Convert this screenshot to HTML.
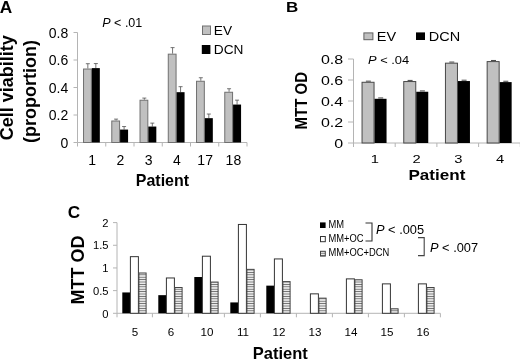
<!DOCTYPE html><html><head><meta charset="utf-8"><title>Figure</title><style>html,body{margin:0;padding:0;background:#fff}svg{display:block;will-change:transform}text{font-family:"Liberation Sans",Arial,sans-serif;fill:#000}</style></head><body>
<svg width="520" height="360" viewBox="0 0 520 360">
<defs><pattern id="h" width="2.4" height="2.4" patternUnits="userSpaceOnUse"><rect width="2.4" height="2.4" fill="#fff"/><rect y="0.7" width="2.4" height="1.0" fill="#666"/></pattern></defs>
<rect width="520" height="360" fill="#fff"/>
<line x1="77.50" y1="32.50" x2="77.50" y2="142.50" stroke="#b4b4b4" stroke-width="1"/>
<line x1="77.50" y1="142.50" x2="247.00" y2="142.50" stroke="#b4b4b4" stroke-width="1"/>
<line x1="73.50" y1="142.50" x2="77.50" y2="142.50" stroke="#b4b4b4" stroke-width="1"/>
<text font-size="14" text-anchor="end" transform="translate(68.3 147.5)">0</text>
<line x1="73.50" y1="115.00" x2="77.50" y2="115.00" stroke="#b4b4b4" stroke-width="1"/>
<text font-size="14" text-anchor="end" transform="translate(68.3 120.0)">0.2</text>
<line x1="73.50" y1="87.50" x2="77.50" y2="87.50" stroke="#b4b4b4" stroke-width="1"/>
<text font-size="14" text-anchor="end" transform="translate(68.3 92.5)">0.4</text>
<line x1="73.50" y1="60.00" x2="77.50" y2="60.00" stroke="#b4b4b4" stroke-width="1"/>
<text font-size="14" text-anchor="end" transform="translate(68.3 64.99999999999999)">0.6</text>
<line x1="73.50" y1="32.50" x2="77.50" y2="32.50" stroke="#b4b4b4" stroke-width="1"/>
<text font-size="14" text-anchor="end" transform="translate(68.3 37.5)">0.8</text>
<line x1="105.75" y1="142.50" x2="105.75" y2="146.50" stroke="#b4b4b4" stroke-width="1"/>
<line x1="87.83" y1="68.52" x2="87.83" y2="63.71" stroke="#505050" stroke-width="0.8"/>
<line x1="85.83" y1="63.71" x2="89.83" y2="63.71" stroke="#505050" stroke-width="0.8"/>
<line x1="95.83" y1="68.11" x2="95.83" y2="63.57" stroke="#505050" stroke-width="0.8"/>
<line x1="93.83" y1="63.57" x2="97.83" y2="63.57" stroke="#505050" stroke-width="0.8"/>
<rect x="83.53" y="69.02" width="7.80" height="73.48" fill="#c0c0c0" stroke="#707070" stroke-width="1"/>
<rect x="91.83" y="68.11" width="8.00" height="74.39" fill="#000"/>
<text font-size="14" text-anchor="middle" transform="translate(92.125 165.4)">1</text>
<line x1="134.00" y1="142.50" x2="134.00" y2="146.50" stroke="#b4b4b4" stroke-width="1"/>
<line x1="116.08" y1="120.50" x2="116.08" y2="119.12" stroke="#505050" stroke-width="0.8"/>
<line x1="114.08" y1="119.12" x2="118.08" y2="119.12" stroke="#505050" stroke-width="0.8"/>
<line x1="124.08" y1="129.57" x2="124.08" y2="126.55" stroke="#505050" stroke-width="0.8"/>
<line x1="122.08" y1="126.55" x2="126.08" y2="126.55" stroke="#505050" stroke-width="0.8"/>
<rect x="111.78" y="121.00" width="7.80" height="21.50" fill="#c0c0c0" stroke="#707070" stroke-width="1"/>
<rect x="120.08" y="129.57" width="8.00" height="12.93" fill="#000"/>
<text font-size="14" text-anchor="middle" transform="translate(120.375 165.4)">2</text>
<line x1="162.25" y1="142.50" x2="162.25" y2="146.50" stroke="#b4b4b4" stroke-width="1"/>
<line x1="144.32" y1="99.74" x2="144.32" y2="98.09" stroke="#505050" stroke-width="0.8"/>
<line x1="142.32" y1="98.09" x2="146.32" y2="98.09" stroke="#505050" stroke-width="0.8"/>
<line x1="152.32" y1="126.55" x2="152.32" y2="123.11" stroke="#505050" stroke-width="0.8"/>
<line x1="150.32" y1="123.11" x2="154.32" y2="123.11" stroke="#505050" stroke-width="0.8"/>
<rect x="140.02" y="100.24" width="7.80" height="42.26" fill="#c0c0c0" stroke="#707070" stroke-width="1"/>
<rect x="148.32" y="126.55" width="8.00" height="15.95" fill="#000"/>
<text font-size="14" text-anchor="middle" transform="translate(148.625 165.4)">3</text>
<line x1="190.50" y1="142.50" x2="190.50" y2="146.50" stroke="#b4b4b4" stroke-width="1"/>
<line x1="172.57" y1="53.67" x2="172.57" y2="47.62" stroke="#505050" stroke-width="0.8"/>
<line x1="170.57" y1="47.62" x2="174.57" y2="47.62" stroke="#505050" stroke-width="0.8"/>
<line x1="180.57" y1="92.18" x2="180.57" y2="86.68" stroke="#505050" stroke-width="0.8"/>
<line x1="178.57" y1="86.68" x2="182.57" y2="86.68" stroke="#505050" stroke-width="0.8"/>
<rect x="168.27" y="54.17" width="7.80" height="88.33" fill="#c0c0c0" stroke="#707070" stroke-width="1"/>
<rect x="176.57" y="92.18" width="8.00" height="50.32" fill="#000"/>
<text font-size="14" text-anchor="middle" transform="translate(176.875 165.4)">4</text>
<line x1="218.75" y1="142.50" x2="218.75" y2="146.50" stroke="#b4b4b4" stroke-width="1"/>
<line x1="200.82" y1="80.76" x2="200.82" y2="77.74" stroke="#505050" stroke-width="0.8"/>
<line x1="198.82" y1="77.74" x2="202.82" y2="77.74" stroke="#505050" stroke-width="0.8"/>
<line x1="208.82" y1="118.16" x2="208.82" y2="114.04" stroke="#505050" stroke-width="0.8"/>
<line x1="206.82" y1="114.04" x2="210.82" y2="114.04" stroke="#505050" stroke-width="0.8"/>
<rect x="196.52" y="81.26" width="7.80" height="61.24" fill="#c0c0c0" stroke="#707070" stroke-width="1"/>
<rect x="204.82" y="118.16" width="8.00" height="24.34" fill="#000"/>
<text font-size="14" text-anchor="middle" transform="translate(205.125 165.4)">17</text>
<line x1="247.00" y1="142.50" x2="247.00" y2="146.50" stroke="#b4b4b4" stroke-width="1"/>
<line x1="229.07" y1="91.76" x2="229.07" y2="88.74" stroke="#505050" stroke-width="0.8"/>
<line x1="227.07" y1="88.74" x2="231.07" y2="88.74" stroke="#505050" stroke-width="0.8"/>
<line x1="237.07" y1="104.55" x2="237.07" y2="100.15" stroke="#505050" stroke-width="0.8"/>
<line x1="235.07" y1="100.15" x2="239.07" y2="100.15" stroke="#505050" stroke-width="0.8"/>
<rect x="224.77" y="92.26" width="7.80" height="50.24" fill="#c0c0c0" stroke="#707070" stroke-width="1"/>
<rect x="233.07" y="104.55" width="8.00" height="37.95" fill="#000"/>
<text font-size="14" text-anchor="middle" transform="translate(233.375 165.4)">18</text>
<line x1="77.50" y1="142.50" x2="77.50" y2="146.50" stroke="#b4b4b4" stroke-width="1"/>
<text font-size="16" font-weight="bold" transform="translate(-0.3 12.5) scale(1.08 1)">A</text>
<text font-size="12.5" transform="translate(102.3 26.5)"><tspan font-style="italic">P</tspan> &lt; .01</text>
<rect x="202.50" y="26.00" width="8.00" height="8.50" fill="#c0c0c0" stroke="#707070" stroke-width="1"/>
<text font-size="13.7" transform="translate(213.8 34.6)">EV</text>
<rect x="201.80" y="45.00" width="8.60" height="9.00" fill="#000"/>
<text font-size="13.7" transform="translate(213.8 54)">DCN</text>
<text font-size="16" font-weight="bold" transform="translate(135.8 186) scale(1 1.05)">Patient</text>
<text font-size="18" text-anchor="middle" font-weight="bold" transform="translate(13.4 87.8) rotate(-90)">Cell viability</text>
<text font-size="18" text-anchor="middle" font-weight="bold" transform="translate(36.2 91.5) rotate(-90)">(proportion)</text>
<line x1="353.50" y1="59.00" x2="353.50" y2="143.00" stroke="#b4b4b4" stroke-width="1"/>
<line x1="353.50" y1="143.00" x2="520.00" y2="143.00" stroke="#b4b4b4" stroke-width="1"/>
<line x1="348.00" y1="143.00" x2="353.50" y2="143.00" stroke="#b4b4b4" stroke-width="1"/>
<text font-size="12.7" text-anchor="end" transform="translate(343.2 147.5) scale(1.26 1)">0</text>
<line x1="348.00" y1="122.00" x2="353.50" y2="122.00" stroke="#b4b4b4" stroke-width="1"/>
<text font-size="12.7" text-anchor="end" transform="translate(343.2 126.5) scale(1.26 1)">0.2</text>
<line x1="348.00" y1="101.00" x2="353.50" y2="101.00" stroke="#b4b4b4" stroke-width="1"/>
<text font-size="12.7" text-anchor="end" transform="translate(343.2 105.5) scale(1.26 1)">0.4</text>
<line x1="348.00" y1="80.00" x2="353.50" y2="80.00" stroke="#b4b4b4" stroke-width="1"/>
<text font-size="12.7" text-anchor="end" transform="translate(343.2 84.5) scale(1.26 1)">0.6</text>
<line x1="348.00" y1="59.00" x2="353.50" y2="59.00" stroke="#b4b4b4" stroke-width="1"/>
<text font-size="12.7" text-anchor="end" transform="translate(343.2 63.5) scale(1.26 1)">0.8</text>
<line x1="395.20" y1="143.00" x2="395.20" y2="147.00" stroke="#b4b4b4" stroke-width="1"/>
<line x1="365.90" y1="81.16" x2="370.90" y2="81.16" stroke="#333" stroke-width="0.9"/>
<line x1="378.20" y1="97.95" x2="383.20" y2="97.95" stroke="#333" stroke-width="0.9"/>
<rect x="362.05" y="82.28" width="12.00" height="60.71" fill="#c0c0c0" stroke="#484848" stroke-width="1"/>
<rect x="374.55" y="98.80" width="12.00" height="44.20" fill="#000"/>
<text font-size="11.7" text-anchor="middle" transform="translate(374.95 162.5) scale(1.26 1)">1</text>
<line x1="436.90" y1="143.00" x2="436.90" y2="147.00" stroke="#b4b4b4" stroke-width="1"/>
<line x1="407.60" y1="80.42" x2="412.60" y2="80.42" stroke="#333" stroke-width="0.9"/>
<line x1="419.90" y1="90.92" x2="424.90" y2="90.92" stroke="#333" stroke-width="0.9"/>
<rect x="403.75" y="81.55" width="12.00" height="61.45" fill="#c0c0c0" stroke="#484848" stroke-width="1"/>
<rect x="416.25" y="91.76" width="12.00" height="51.24" fill="#000"/>
<text font-size="11.7" text-anchor="middle" transform="translate(416.65 162.5) scale(1.26 1)">2</text>
<line x1="478.60" y1="143.00" x2="478.60" y2="147.00" stroke="#b4b4b4" stroke-width="1"/>
<line x1="449.30" y1="62.05" x2="454.30" y2="62.05" stroke="#333" stroke-width="0.9"/>
<line x1="461.60" y1="80.21" x2="466.60" y2="80.21" stroke="#333" stroke-width="0.9"/>
<rect x="445.45" y="63.17" width="12.00" height="79.83" fill="#c0c0c0" stroke="#484848" stroke-width="1"/>
<rect x="457.95" y="81.05" width="12.00" height="61.95" fill="#000"/>
<text font-size="11.7" text-anchor="middle" transform="translate(458.34999999999997 162.5) scale(1.26 1)">3</text>
<line x1="520.30" y1="143.00" x2="520.30" y2="147.00" stroke="#b4b4b4" stroke-width="1"/>
<line x1="491.00" y1="60.47" x2="496.00" y2="60.47" stroke="#333" stroke-width="0.9"/>
<line x1="503.30" y1="81.26" x2="508.30" y2="81.26" stroke="#333" stroke-width="0.9"/>
<rect x="487.15" y="61.60" width="12.00" height="81.40" fill="#c0c0c0" stroke="#484848" stroke-width="1"/>
<rect x="499.65" y="82.10" width="12.00" height="60.90" fill="#000"/>
<text font-size="11.7" text-anchor="middle" transform="translate(500.05 162.5) scale(1.26 1)">4</text>
<line x1="353.50" y1="143.00" x2="353.50" y2="147.00" stroke="#b4b4b4" stroke-width="1"/>
<text font-size="14.5" font-weight="bold" transform="translate(286 12.4) scale(1.17 1)">B</text>
<rect x="363.90" y="32.90" width="9.00" height="6.80" fill="#c0c0c0" stroke="#606060" stroke-width="1"/>
<text font-size="12" transform="translate(376.8 40.6) scale(1.21 1)">EV</text>
<rect x="416.00" y="32.40" width="9.00" height="7.60" fill="#000"/>
<text font-size="12" transform="translate(428.8 40.6) scale(1.21 1)">DCN</text>
<text font-size="11.4" transform="translate(368 64) scale(1.13 1)"><tspan font-style="italic">P</tspan> &lt; .04</text>
<text font-size="14" font-weight="bold" transform="translate(408.4 179.6) scale(1.22 1)">Patient</text>
<text font-size="15" text-anchor="middle" font-weight="bold" transform="translate(307 100.7) rotate(-90) scale(1 1.12)">MTT OD</text>
<line x1="117.00" y1="222.60" x2="117.00" y2="313.30" stroke="#b4b4b4" stroke-width="1"/>
<line x1="117.00" y1="313.30" x2="440.40" y2="313.30" stroke="#b4b4b4" stroke-width="1"/>
<line x1="113.00" y1="313.30" x2="117.00" y2="313.30" stroke="#b4b4b4" stroke-width="1"/>
<text font-size="11.2" text-anchor="end" transform="translate(108.5 317.5)">0</text>
<line x1="113.00" y1="290.62" x2="117.00" y2="290.62" stroke="#b4b4b4" stroke-width="1"/>
<text font-size="11.2" text-anchor="end" transform="translate(108.5 294.825)">0.5</text>
<line x1="113.00" y1="267.95" x2="117.00" y2="267.95" stroke="#b4b4b4" stroke-width="1"/>
<text font-size="11.2" text-anchor="end" transform="translate(108.5 272.15)">1</text>
<line x1="113.00" y1="245.28" x2="117.00" y2="245.28" stroke="#b4b4b4" stroke-width="1"/>
<text font-size="11.2" text-anchor="end" transform="translate(108.5 249.475)">1.5</text>
<line x1="113.00" y1="222.60" x2="117.00" y2="222.60" stroke="#b4b4b4" stroke-width="1"/>
<text font-size="11.2" text-anchor="end" transform="translate(108.5 226.79999999999998)">2</text>
<line x1="152.40" y1="313.30" x2="152.40" y2="317.30" stroke="#b4b4b4" stroke-width="1"/>
<rect x="122.30" y="292.44" width="7.70" height="20.86" fill="#000"/>
<rect x="130.40" y="256.66" width="8.00" height="56.64" fill="#fff" stroke="#333" stroke-width="1"/>
<rect x="138.90" y="272.99" width="7.20" height="40.32" fill="url(#h)" stroke="#444" stroke-width="1"/>
<text font-size="11.6" text-anchor="middle" transform="translate(134.9 336.2)">5</text>
<line x1="188.40" y1="313.30" x2="188.40" y2="317.30" stroke="#b4b4b4" stroke-width="1"/>
<rect x="158.30" y="295.16" width="7.70" height="18.14" fill="#000"/>
<rect x="166.40" y="277.97" width="8.00" height="35.33" fill="#fff" stroke="#333" stroke-width="1"/>
<rect x="174.90" y="287.50" width="7.20" height="25.80" fill="url(#h)" stroke="#444" stroke-width="1"/>
<text font-size="11.6" text-anchor="middle" transform="translate(170.9 336.2)">6</text>
<line x1="224.40" y1="313.30" x2="224.40" y2="317.30" stroke="#b4b4b4" stroke-width="1"/>
<rect x="194.30" y="277.02" width="7.70" height="36.28" fill="#000"/>
<rect x="202.40" y="256.21" width="8.00" height="57.09" fill="#fff" stroke="#333" stroke-width="1"/>
<rect x="210.90" y="282.06" width="7.20" height="31.25" fill="url(#h)" stroke="#444" stroke-width="1"/>
<text font-size="11.6" text-anchor="middle" transform="translate(206.9 336.2)">10</text>
<line x1="260.40" y1="313.30" x2="260.40" y2="317.30" stroke="#b4b4b4" stroke-width="1"/>
<rect x="230.30" y="302.42" width="7.70" height="10.88" fill="#000"/>
<rect x="238.40" y="224.46" width="8.00" height="88.84" fill="#fff" stroke="#333" stroke-width="1"/>
<rect x="246.90" y="269.36" width="7.20" height="43.94" fill="url(#h)" stroke="#444" stroke-width="1"/>
<text font-size="11.6" text-anchor="middle" transform="translate(242.9 336.2)">11</text>
<line x1="296.40" y1="313.30" x2="296.40" y2="317.30" stroke="#b4b4b4" stroke-width="1"/>
<rect x="266.30" y="285.64" width="7.70" height="27.66" fill="#000"/>
<rect x="274.40" y="258.93" width="8.00" height="54.37" fill="#fff" stroke="#333" stroke-width="1"/>
<rect x="282.90" y="281.60" width="7.20" height="31.70" fill="url(#h)" stroke="#444" stroke-width="1"/>
<text font-size="11.6" text-anchor="middle" transform="translate(278.9 336.2)">12</text>
<line x1="332.40" y1="313.30" x2="332.40" y2="317.30" stroke="#b4b4b4" stroke-width="1"/>
<rect x="310.40" y="293.85" width="8.00" height="19.45" fill="#fff" stroke="#333" stroke-width="1"/>
<rect x="318.90" y="298.15" width="7.20" height="15.15" fill="url(#h)" stroke="#444" stroke-width="1"/>
<text font-size="11.6" text-anchor="middle" transform="translate(314.9 336.2)">13</text>
<line x1="368.40" y1="313.30" x2="368.40" y2="317.30" stroke="#b4b4b4" stroke-width="1"/>
<rect x="346.40" y="278.88" width="8.00" height="34.42" fill="#fff" stroke="#333" stroke-width="1"/>
<rect x="354.90" y="279.79" width="7.20" height="33.51" fill="url(#h)" stroke="#444" stroke-width="1"/>
<text font-size="11.6" text-anchor="middle" transform="translate(350.9 336.2)">14</text>
<line x1="404.40" y1="313.30" x2="404.40" y2="317.30" stroke="#b4b4b4" stroke-width="1"/>
<rect x="382.40" y="283.87" width="8.00" height="29.43" fill="#fff" stroke="#333" stroke-width="1"/>
<rect x="390.90" y="308.81" width="7.20" height="4.49" fill="url(#h)" stroke="#444" stroke-width="1"/>
<text font-size="11.6" text-anchor="middle" transform="translate(386.9 336.2)">15</text>
<line x1="440.40" y1="313.30" x2="440.40" y2="317.30" stroke="#b4b4b4" stroke-width="1"/>
<rect x="418.40" y="283.87" width="8.00" height="29.43" fill="#fff" stroke="#333" stroke-width="1"/>
<rect x="426.90" y="287.50" width="7.20" height="25.80" fill="url(#h)" stroke="#444" stroke-width="1"/>
<text font-size="11.6" text-anchor="middle" transform="translate(422.9 336.2)">16</text>
<line x1="117.00" y1="313.30" x2="117.00" y2="317.30" stroke="#b4b4b4" stroke-width="1"/>
<text font-size="15.6" font-weight="bold" transform="translate(67.8 217.6) scale(1.1 1)">C</text>
<text font-size="18" text-anchor="middle" font-weight="bold" transform="translate(84 270) rotate(-90)">MTT OD</text>
<text font-size="16.5" font-weight="bold" transform="translate(252.8 359)">Patient</text>
<rect x="320.00" y="222.40" width="5.60" height="5.60" fill="#000"/>
<rect x="320.50" y="236.50" width="4.80" height="5.20" fill="#fff" stroke="#333" stroke-width="1"/>
<rect x="320.50" y="251.30" width="4.80" height="4.80" fill="url(#h)" stroke="#444" stroke-width="1"/>
<text font-size="10.6" transform="translate(328.4 228) scale(0.885 1)">MM</text>
<text font-size="10.6" transform="translate(328.4 242.4) scale(0.885 1)">MM+OC</text>
<text font-size="10.6" transform="translate(328.4 256.4) scale(0.885 1)">MM+OC+DCN</text>
<path d="M365.5 223H372V241H365.5" fill="none" stroke="#333" stroke-width="1.1"/>
<path d="M418 237.6H424.2V255.6H418" fill="none" stroke="#444" stroke-width="1.1"/>
<text font-size="12.8" transform="translate(376 234)"><tspan font-style="italic">P</tspan> &lt; .005</text>
<text font-size="12.8" transform="translate(430 252)"><tspan font-style="italic">P</tspan> &lt; .007</text>
</svg></body></html>
